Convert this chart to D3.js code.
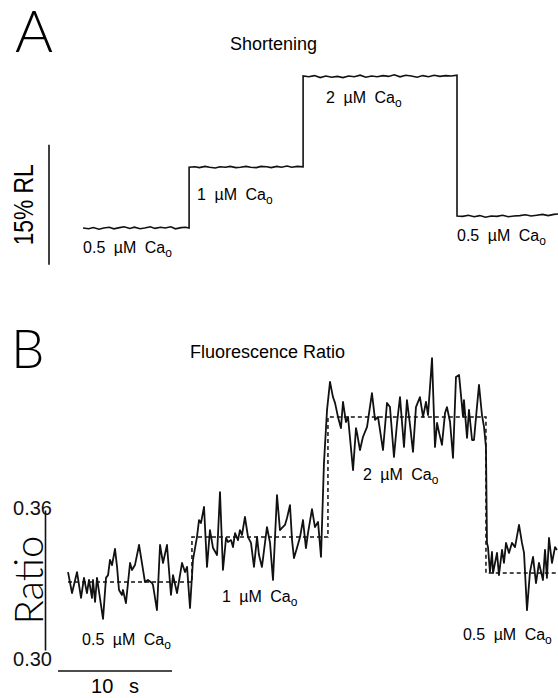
<!DOCTYPE html>
<html>
<head>
<meta charset="utf-8">
<script src="https://cdn.jsdelivr.net/npm/d3@7"></script>
<style>
body { margin: 0; background: #fff; }
svg { display: block; font-family: "Liberation Sans", Arial, sans-serif; }
</style>
</head>
<body>
<svg id="fig" width="558" height="698"></svg>
<script>
// ---- panel A: shortening (% resting length), time in s ----
const shortTime = [
  2.2, 2.7, 3.1, 3.6, 4.0, 4.5, 4.9, 5.4, 5.8, 6.3, 6.7, 7.2, 7.6, 8.1, 8.5, 9.0, 9.4, 9.9, 10.3, 10.8, 11.2, 11.5,
  11.5, 12.0, 12.4, 12.9, 13.3, 13.8, 14.2, 14.7, 15.1, 15.6, 16.0, 16.5, 16.9, 17.4, 17.8, 18.3, 18.7, 19.2, 19.6, 20.1, 20.5, 21.0, 21.5,
  21.5, 22.0, 22.5, 23.0, 23.5, 24.0, 24.5, 25.0, 25.5, 26.0, 26.5, 27.0, 27.5, 28.0, 28.5, 29.0, 29.5, 30.0, 30.5, 31.0, 31.5, 32.0, 32.5, 33.0, 33.5, 34.0, 34.5, 35.0,
  35.0, 35.5, 36.0, 36.5, 37.0, 37.5, 38.0, 38.5, 39.0, 39.5, 40.0, 40.5, 41.0, 41.5, 42.0, 42.5, 43.0, 43.5, 43.9
];
const shortValue = [
  0.0, -0.1, 0.05, -0.15, 0.0, 0.1, -0.1, 0.05, 0.15, -0.05, 0.1, -0.1, 0.0, 0.15, -0.05, 0.1, 0.0, 0.15, -0.1, 0.05, 0.1, 0.0,
  7.6, 7.65, 7.55, 7.7, 7.6, 7.5, 7.65, 7.6, 7.7, 7.55, 7.6, 7.7, 7.6, 7.55, 7.7, 7.65, 7.55, 7.7, 7.6, 7.75, 7.6, 7.7, 7.65,
  19.0, 18.9, 19.05, 18.8, 19.0, 18.85, 18.95, 18.8, 19.0, 18.9, 19.1, 18.85, 19.0, 18.9, 19.05, 18.95, 19.15, 18.9, 19.1, 19.0, 18.85, 19.05, 18.9, 19.1, 18.95, 19.05, 19.0, 19.1,
  1.5, 1.45, 1.6, 1.4, 1.55, 1.35, 1.5, 1.45, 1.6, 1.4, 1.5, 1.55, 1.65, 1.5, 1.6, 1.7, 1.55, 1.7, 1.75
];

// ---- panel B: fluorescence ratio ----
const ratioTime = [
  0.88, 1.23, 1.67, 2.02, 2.28, 2.54, 2.72, 2.98, 3.07, 3.25, 3.42, 3.95, 4.21, 4.39, 4.56, 4.74, 5.00, 5.18, 5.35, 5.61,
  5.70, 5.96, 6.14, 6.32, 6.49, 6.75, 7.11, 7.46, 7.63, 7.89, 8.25, 8.33, 8.68, 8.95, 9.21, 9.56, 9.91, 10.09, 10.44, 10.88,
  11.14, 11.32, 11.58, 11.84, 12.19, 12.37, 12.54, 12.81, 13.07, 13.33, 13.60, 13.95, 14.21, 14.47, 14.74, 14.91, 15.18, 15.35, 15.53, 15.79,
  15.96, 16.14, 16.40, 16.67, 16.93, 17.19, 17.46, 17.63, 17.89, 18.33, 18.60, 18.86, 19.21, 19.47, 19.65, 19.91, 20.09, 20.35, 20.53, 20.70,
  20.96, 21.23, 21.49, 21.75, 21.93, 22.28, 22.54, 22.81, 23.07, 23.33, 23.60, 23.86, 24.12, 24.30, 24.56, 24.82, 25.00, 25.26, 25.44, 25.88,
  26.14, 26.23, 26.49, 26.75, 27.11, 27.54, 27.81, 28.07, 28.51, 28.86, 29.12, 29.47, 29.74, 30.00, 30.35, 30.61, 30.88, 31.14, 31.40, 31.75,
  32.02, 32.28, 32.46, 32.81, 33.07, 33.25, 33.42, 33.68, 33.95, 34.12, 34.39, 34.65, 34.91, 35.18, 35.53, 35.61, 35.88, 36.05, 36.32, 36.49,
  36.67, 36.93, 37.19, 37.37, 37.54, 37.63, 37.72, 37.89, 38.07, 38.16, 38.51, 38.68, 38.95, 39.12, 39.30, 39.56, 39.82, 40.09, 40.44, 40.70,
  40.88, 41.14, 41.40, 41.67, 41.93, 42.19, 42.54, 42.72, 42.89, 43.07, 43.33, 43.60, 43.77
];
const ratioValue = [
  0.3334, 0.3244, 0.3334, 0.3223, 0.3309, 0.3244, 0.3300, 0.3223, 0.3300, 0.3206, 0.3309, 0.3133, 0.3309, 0.3321, 0.3386, 0.3364, 0.3433, 0.3356, 0.3257, 0.3236,
  0.3257, 0.3201, 0.3287, 0.3373, 0.3343, 0.3364, 0.3450, 0.3343, 0.3291, 0.3300, 0.3287, 0.3279, 0.3171, 0.3450, 0.3373, 0.3450, 0.3236, 0.3321, 0.3244, 0.3373,
  0.3334, 0.3356, 0.3180, 0.3386, 0.3484, 0.3557, 0.3544, 0.3613, 0.3356, 0.3514, 0.3437, 0.3407, 0.3677, 0.3343, 0.3480, 0.3463, 0.3471, 0.3441, 0.3501, 0.3471,
  0.3514, 0.3493, 0.3570, 0.3484, 0.3459, 0.3356, 0.3484, 0.3407, 0.3356, 0.3527, 0.3459, 0.3300, 0.3664, 0.3514, 0.3523, 0.3536, 0.3566, 0.3621, 0.3471, 0.3394,
  0.3437, 0.3484, 0.3557, 0.3437, 0.3501, 0.3604, 0.3527, 0.3549, 0.3399, 0.3801, 0.4029, 0.4149, 0.4084, 0.4059, 0.3999, 0.3951, 0.4063, 0.3977, 0.3999, 0.3771,
  0.3951, 0.3930, 0.3857, 0.3913, 0.3956, 0.4101, 0.3986, 0.3999, 0.3857, 0.4059, 0.4041, 0.3827, 0.3973, 0.4084, 0.3870, 0.4071, 0.3964, 0.3849, 0.4041, 0.4084,
  0.3999, 0.4063, 0.4007, 0.4251, 0.3870, 0.3973, 0.3934, 0.3879, 0.4016, 0.4041, 0.3977, 0.3823, 0.4170, 0.4179, 0.3999, 0.4071, 0.3909, 0.4029, 0.3900, 0.3900,
  0.3999, 0.4136, 0.4007, 0.3956, 0.3870, 0.3459, 0.3441, 0.3334, 0.3420, 0.3330, 0.3416, 0.3321, 0.3429, 0.3373, 0.3459, 0.3416, 0.3459, 0.3441, 0.3536, 0.3459,
  0.3416, 0.3171, 0.3334, 0.3399, 0.3287, 0.3373, 0.3300, 0.3429, 0.3309, 0.3480, 0.3373, 0.3441, 0.3429
];

// mean ratio for each bath (dashed steps)
const stepTime = [0.88, 11.75, 23.68, 37.54, 43.86];
const stepRatio = [0.3291, 0.3484, 0.3999, 0.3330];

// bath solutions
const bathCa = ["0.5", "1", "2", "0.5"];
const shortLevel = [0, 7.6, 19.0, 1.5];
const shortStart = [2.2, 11.5, 21.5, 35.0];

const ratioTicks = [0.30, 0.36];
const scaleBarShort = [-4.6, 10.4];   // 15 % RL
const scaleBarTime = [0, 10];         // 10 s

const svg = d3.select("#fig");

const x = d3.scaleLinear().domain([0, 10]).range([58, 172]);
const yA = d3.scaleLinear().domain([0, 15]).range([228, 108]);
const yB = d3.scaleLinear().domain([0.30, 0.36]).range([650, 510]);

// panel letters and titles
const letterFont = "Lato, \"Open Sans\", \"Liberation Sans\", sans-serif";
svg.append("text").attr("x", 15).attr("y", 52)
  .style("font-family", letterFont)
  .style("font-size", "58px").style("font-weight", 300).text("A");
svg.append("text").attr("x", 11).attr("y", 368)
  .style("font-family", letterFont)
  .style("font-size", "53px").style("font-weight", 300).text("B");
svg.append("text").attr("x", 230).attr("y", 50)
  .style("font-size", "18px").text("Shortening");
svg.append("text").attr("x", 190).attr("y", 358)
  .style("font-size", "18px").text("Fluorescence Ratio");

function caLabel(g, xx, yy, conc) {
  const t = g.append("text").attr("x", xx).attr("y", yy)
    .style("font-size", "16px").style("word-spacing", "4px");
  t.append("tspan").text(conc + " \u00b5M Ca");
  t.append("tspan").attr("dy", 4).style("font-size", "12px").text("o");
}

// ---- panel A ----
const gA = svg.append("g");
const shortPts = shortTime.map((t, i) => [t, shortValue[i]]);
gA.append("path")
  .datum(shortPts)
  .attr("fill", "none").attr("stroke", "#111").attr("stroke-width", 1.6)
  .attr("d", d3.line().x(d => x(d[0])).y(d => yA(d[1])));

gA.append("line")
  .attr("x1", 49).attr("x2", 49)
  .attr("y1", yA(scaleBarShort[0])).attr("y2", yA(scaleBarShort[1]))
  .attr("stroke", "#111").attr("stroke-width", 1.6);
gA.append("text")
  .attr("transform", "translate(33," + yA((scaleBarShort[0] + scaleBarShort[1]) / 2) + ") rotate(-90)")
  .attr("text-anchor", "middle")
  .attr("textLength", 81).attr("lengthAdjust", "spacingAndGlyphs")
  .style("font-size", "27px").text("15% RL");

const labOffA = [[0, 25], [8, 33], [23, 27], [0, 25]];
bathCa.forEach((c, i) => {
  caLabel(gA, x(shortStart[i]) + labOffA[i][0], yA(shortLevel[i]) + labOffA[i][1], c);
});

// ---- panel B ----
const gB = svg.append("g");
const stepPts = stepRatio.map((r, i) => [stepTime[i], r]);
stepPts.push([stepTime[stepTime.length - 1], stepRatio[stepRatio.length - 1]]);
gB.append("path")
  .datum(stepPts)
  .attr("fill", "none").attr("stroke", "#111").attr("stroke-width", 1.5)
  .attr("stroke-dasharray", "4,3")
  .attr("d", d3.line().curve(d3.curveStepAfter).x(d => x(d[0])).y(d => yB(d[1])));

const ratioPts = ratioTime.map((t, i) => [t, ratioValue[i]]);
gB.append("path")
  .datum(ratioPts)
  .attr("fill", "none").attr("stroke", "#111").attr("stroke-width", 1.8)
  .attr("stroke-linejoin", "round")
  .attr("d", d3.line().x(d => x(d[0])).y(d => yB(d[1])));

const yAxis = d3.axisLeft(yB).tickValues(ratioTicks).tickSize(0).tickFormat(d3.format(".2f"));
const axG = gB.append("g").attr("transform", "translate(45,0)").call(yAxis);
axG.select(".domain").attr("stroke", "#111").attr("stroke-width", 1.6);
axG.selectAll(".tick text")
  .attr("x", 7)
  .attr("dy", (d, i) => i === 0 ? "0.75em" : "0.2em")
  .style("font-size", "20px").style("font-family", "\"Liberation Sans\", Arial, sans-serif")
  .attr("fill", "#111");

gB.append("text")
  .attr("transform", "translate(43," + yB(0.33) + ") rotate(-90)")
  .attr("text-anchor", "middle")
  .style("font-family", letterFont).style("font-weight", 300)
  .style("font-size", "40px").text("Ratio");

// 10 s scale bar
gB.append("line")
  .attr("x1", x(scaleBarTime[0])).attr("x2", x(scaleBarTime[1]))
  .attr("y1", yB(0.30) + 21).attr("y2", yB(0.30) + 21)
  .attr("stroke", "#111").attr("stroke-width", 1.4);
gB.append("text")
  .attr("x", x((scaleBarTime[0] + scaleBarTime[1]) / 2)).attr("y", 693)
  .attr("text-anchor", "middle").style("font-size", "20px").style("word-spacing", "10px")
  .text("10 s");

const labOffB = [[14, 63], [30, 65], [35, 63], [-23, 67]];
bathCa.forEach((c, i) => {
  caLabel(gB, x(stepTime[i]) + labOffB[i][0], yB(stepRatio[i]) + labOffB[i][1], c);
});
</script>
</body>
</html>
